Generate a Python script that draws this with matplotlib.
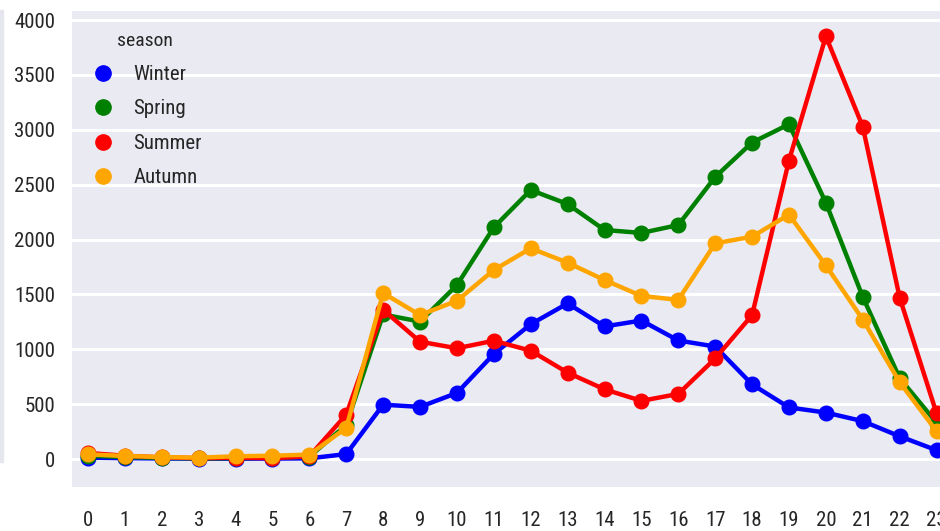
import matplotlib
matplotlib.use("Agg")
import matplotlib.pyplot as plt
from matplotlib.lines import Line2D
from matplotlib.patches import Rectangle

hours = list(range(24))
hour_labels = [str(h) for h in hours]
seasons = ["Winter", "Spring", "Summer", "Autumn"]
colors = ["blue", "green", "red", "orange"]

winter = [12, 8, 5, 3, 3, 4, 6, 45, 495, 475, 602, 957, 1228, 1418, 1208, 1262,
          1080, 1025, 680, 470, 423, 345, 207, 80]
spring = [30, 18, 10, 6, 8, 12, 22, 310, 1317, 1252, 1585, 2111, 2451, 2323, 2087, 2060,
          2132, 2570, 2884, 3050, 2335, 1477, 737, 330]
summer = [55, 30, 15, 8, 12, 8, 25, 404, 1360, 1069, 1009, 1078, 987, 787, 635, 530,
          593, 916, 1311, 2720, 3852, 3028, 1471, 416]
autumn = [42, 28, 18, 12, 25, 30, 40, 284, 1512, 1312, 1442, 1722, 1920, 1789, 1631, 1486,
          1450, 1965, 2026, 2227, 1764, 1271, 700, 253]
series = [winter, spring, summer, autumn]
yticks = list(range(0, 4001, 500))

plt.rcParams['font.family'] = ['Roboto Condensed', 'Liberation Sans', 'DejaVu Sans']

W, H = 940, 531
fig = plt.figure(figsize=(W / 100, H / 100), dpi=100)
fig.patch.set_facecolor("white")

# axes spans beyond the right border (cropped screenshot)
left_px, right_px, top_px, bot_px = 72, 955, 10.7, 487
ax = fig.add_axes([left_px / W, 1 - bot_px / H, (right_px - left_px) / W, (bot_px - top_px) / H])
ax.set_facecolor("#EAEAF2")
for s in ax.spines.values():
    s.set_visible(False)

for name, col, vals in zip(seasons, colors, series):
    ax.plot(hours, vals, color=col, lw=3.2, marker="o", markersize=10.5,
            solid_capstyle="round", zorder=3)

ax.set_xlim(-0.434, 23.5)
ax.set_ylim(-255, 4085)
ax.set_xticks(hours)
ax.set_xticklabels(hour_labels)
ax.set_yticks(yticks)
ax.set_yticklabels([str(v) for v in yticks])
ax.yaxis.grid(True, color="white", lw=2.2)
ax.xaxis.grid(False)
ax.set_axisbelow(True)
ax.tick_params(axis="both", length=0, labelsize=15, colors="#262626")
ax.tick_params(axis="x", pad=17)
ax.tick_params(axis="y", pad=12)

handles = [Line2D([0], [0], color=c, marker="o", linestyle="none", markersize=11)
           for c in colors]
leg = ax.legend(handles, seasons, title="season", loc="upper left",
                bbox_to_anchor=(73 / W, 1 - 17 / H), bbox_transform=fig.transFigure,
                frameon=False, fontsize=15, title_fontsize=14, handlelength=1.5,
                handletextpad=0.7, labelspacing=0.74, borderpad=0.2)
for t in leg.get_texts():
    t.set_color("#262626")
leg.get_title().set_color("#262626")

# thin light strip at the left edge of the screenshot
fig.patches.append(Rectangle((0, 1 - 462 / H), 2.5 / W, 452 / H, transform=fig.transFigure,
                             color="#E6E6EE", zorder=0))

fig.savefig("out.png", dpi=100)
